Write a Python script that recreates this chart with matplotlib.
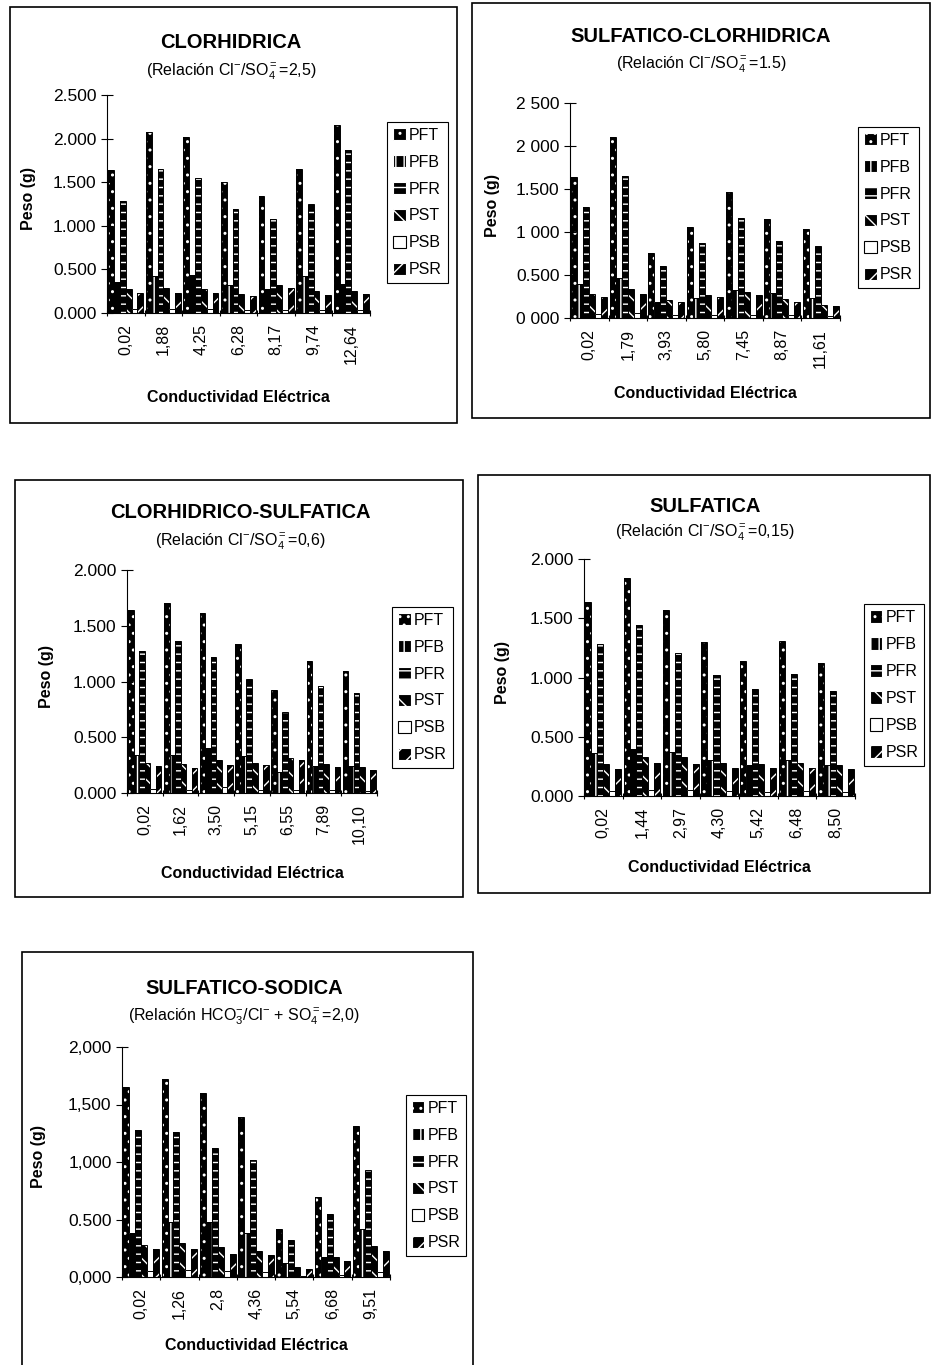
import matplotlib
matplotlib.use("Agg")
import matplotlib.pyplot as plt
import numpy as np
from matplotlib.patches import Patch, Rectangle

plt.rcParams["font.family"] = ["Liberation Sans", "DejaVu Sans"]
plt.rcParams["mathtext.fontset"] = "custom"
plt.rcParams["mathtext.rm"] = "Liberation Sans"
plt.rcParams["mathtext.it"] = "Liberation Sans:italic"
plt.rcParams["mathtext.bf"] = "Liberation Sans:bold"
plt.rcParams["hatch.linewidth"] = 1.0

W, H = 931, 1365
SERIES = ["PFT", "PFB", "PFR", "PST", "PSB", "PSR"]

# CLORHIDRICA
c1_cats = ["0,02", "1,88", "4,25", "6,28", "8,17", "9,74", "12,64"]
c1_pft = [1.64, 2.07, 2.02, 1.50, 1.34, 1.65, 2.16]
c1_pfb = [0.36, 0.42, 0.44, 0.32, 0.27, 0.42, 0.33]
c1_pfr = [1.28, 1.65, 1.55, 1.19, 1.08, 1.25, 1.87]
c1_pst = [0.27, 0.29, 0.27, 0.22, 0.32, 0.25, 0.25]
c1_psb = [0.05, 0.05, 0.05, 0.03, 0.04, 0.04, 0.03]
c1_psr = [0.23, 0.23, 0.23, 0.20, 0.29, 0.21, 0.22]
c1_yticks = ["0.000", "0.500", "1.000", "1.500", "2.000", "2.500"]

# SULFATICO-CLORHIDRICA
c2_cats = ["0,02", "1,79", "3,93", "5,80", "7,45", "8,87", "11,61"]
c2_pft = [1.64, 2.10, 0.76, 1.06, 1.46, 1.15, 1.04]
c2_pfb = [0.39, 0.46, 0.19, 0.23, 0.33, 0.29, 0.23]
c2_pfr = [1.29, 1.65, 0.60, 0.87, 1.16, 0.90, 0.84]
c2_pst = [0.28, 0.34, 0.21, 0.27, 0.30, 0.22, 0.15]
c2_psb = [0.05, 0.06, 0.03, 0.03, 0.04, 0.03, 0.02]
c2_psr = [0.24, 0.28, 0.19, 0.24, 0.27, 0.19, 0.14]
c2_yticks = ["0 000", "0.500", "1 000", "1.500", "2 000", "2 500"]

# CLORHIDRICO-SULFATICA
c3_cats = ["0,02", "1,62", "3,50", "5,15", "6,55", "7,89", "10,10"]
c3_pft = [1.64, 1.70, 1.61, 1.34, 0.92, 1.18, 1.09]
c3_pfb = [0.34, 0.34, 0.40, 0.33, 0.19, 0.24, 0.24]
c3_pfr = [1.27, 1.36, 1.22, 1.02, 0.73, 0.96, 0.90]
c3_pst = [0.27, 0.26, 0.30, 0.27, 0.31, 0.26, 0.23]
c3_psb = [0.04, 0.03, 0.05, 0.03, 0.03, 0.03, 0.02]
c3_psr = [0.24, 0.22, 0.25, 0.25, 0.30, 0.23, 0.21]
c3_yticks = ["0.000", "0.500", "1.000", "1.500", "2.000"]

# SULFATICA
c4_cats = ["0,02", "1,44", "2,97", "4,30", "5,42", "6,48", "8,50"]
c4_pft = [1.64, 1.84, 1.57, 1.30, 1.14, 1.31, 1.12]
c4_pfb = [0.36, 0.40, 0.37, 0.30, 0.26, 0.30, 0.26]
c4_pfr = [1.28, 1.44, 1.21, 1.02, 0.90, 1.03, 0.89]
c4_pst = [0.27, 0.33, 0.33, 0.28, 0.27, 0.28, 0.26]
c4_psb = [0.04, 0.05, 0.05, 0.04, 0.03, 0.04, 0.03]
c4_psr = [0.23, 0.28, 0.27, 0.24, 0.24, 0.24, 0.23]
c4_yticks = ["0.000", "0.500", "1.000", "1.500", "2.000"]

# SULFATICO-SODICA
c5_cats = ["0,02", "1,26", "2,8", "4,36", "5,54", "6,68", "9,51"]
c5_pft = [1.65, 1.72, 1.60, 1.39, 0.42, 0.70, 1.31]
c5_pfb = [0.38, 0.48, 0.48, 0.38, 0.12, 0.17, 0.42]
c5_pfr = [1.28, 1.26, 1.12, 1.02, 0.32, 0.55, 0.93]
c5_pst = [0.28, 0.30, 0.26, 0.23, 0.09, 0.17, 0.27]
c5_psb = [0.05, 0.06, 0.05, 0.04, 0.01, 0.02, 0.04]
c5_psr = [0.24, 0.24, 0.20, 0.19, 0.07, 0.14, 0.23]
c5_yticks = ["0,000", "0.500", "1,000", "1,500", "2,000"]

SUB = r"Cl$^{\mathrm{-}}$/SO$_{\mathrm{4}}^{\mathrm{=}}$"
panels = [
    dict(title="CLORHIDRICA", sub="(Relación " + SUB + "=2,5)",
         cats=c1_cats, vals=[c1_pft, c1_pfb, c1_pfr, c1_pst, c1_psb, c1_psr],
         yt=c1_yticks, ymax=2.5,
         box=(10, 7, 457, 423), ax=(107, 370, 95, 313), leg=(388, 447, 110, 295),
         tx=231, ty=43, sy=72, xly=397, yx=28),
    dict(title="SULFATICO-CLORHIDRICA", sub="(Relación " + SUB + "=1.5)",
         cats=c2_cats, vals=[c2_pft, c2_pfb, c2_pfr, c2_pst, c2_psb, c2_psr],
         yt=c2_yticks, ymax=2.5,
         box=(472, 3, 930, 418), ax=(570, 840, 103, 318), leg=(860, 917, 118, 297),
         tx=701, ty=37, sy=65, xly=393, yx=492),
    dict(title="CLORHIDRICO-SULFATICA", sub="(Relación " + SUB + "=0,6)",
         cats=c3_cats, vals=[c3_pft, c3_pfb, c3_pfr, c3_pst, c3_psb, c3_psr],
         yt=c3_yticks, ymax=2.0,
         box=(15, 480, 463, 897), ax=(127, 377, 570, 793), leg=(392, 453, 595, 780),
         tx=240, ty=512, sy=542, xly=873, yx=47),
    dict(title="SULFATICA", sub="(Relación " + SUB + "=0,15)",
         cats=c4_cats, vals=[c4_pft, c4_pfb, c4_pfr, c4_pst, c4_psb, c4_psr],
         yt=c4_yticks, ymax=2.0,
         box=(478, 475, 930, 893), ax=(584, 855, 559, 796), leg=(865, 923, 588, 782),
         tx=705, ty=507, sy=533, xly=868, yx=503),
    dict(title="SULFATICO-SODICA",
         sub=r"(Relación HCO$_{\mathrm{3}}^{\mathrm{-}}$/Cl$^{\mathrm{-}}$ + SO$_{\mathrm{4}}^{\mathrm{=}}$=2,0)",
         cats=c5_cats, vals=[c5_pft, c5_pfb, c5_pfr, c5_pst, c5_psb, c5_psr],
         yt=c5_yticks, ymax=2.0,
         box=(22, 952, 473, 1380), ax=(122, 390, 1047, 1277), leg=(407, 465, 1083, 1268),
         tx=244, ty=988, sy=1017, xly=1345, yx=38),
]

# face, hatch colour, hatch per series
styles = [
    ("black", "white", ".."),
    ("black", "white", "||"),
    ("black", "white", "--"),
    ("black", "white", "\\\\"),
    ("white", "black", None),
    ("black", "white", "//"),
]

fig = plt.figure(figsize=(W / 100, H / 100), dpi=100)


def fx(x):
    return x / W


def fy(y):
    return 1 - y / H


for p in panels:
    bx0, by0, bx1, by1 = p["box"]
    fig.patches.append(Rectangle((fx(bx0), fy(by1)), fx(bx1 - bx0), (by1 - by0) / H,
                                 transform=fig.transFigure, fill=False,
                                 edgecolor="black", linewidth=1.2))
    x0, x1, yt, yb = p["ax"]
    ax = fig.add_axes([fx(x0), fy(yb), fx(x1 - x0), (yb - yt) / H])
    n = len(p["cats"])
    x = np.arange(n)
    w = 0.155
    for i, (vals, (fc, hc, hatch)) in enumerate(zip(p["vals"], styles)):
        pos = x + (i - 2.5) * w
        ax.bar(pos, vals, w, color=fc, edgecolor=hc, hatch=hatch, linewidth=0)
        ax.bar(pos, vals, w, fill=False, edgecolor="black", linewidth=0.7)
    ax.set_xlim(-0.5, n - 0.5)
    ax.set_ylim(0, p["ymax"])
    ax.set_yticks(np.arange(0, p["ymax"] + 0.01, 0.5))
    ax.set_yticklabels(p["yt"], fontsize=12.5)
    ax.set_xticks(x)
    ax.set_xticklabels(p["cats"], rotation=90, fontsize=11.5)
    ax.set_xticks(np.arange(n + 1) - 0.5, minor=True)
    ax.tick_params(axis="x", which="major", length=0, pad=8)
    ax.tick_params(axis="x", which="minor", length=5, direction="inout", width=0.8)
    ax.tick_params(axis="y", length=9, direction="inout", width=0.8, pad=3)
    for s in ("top", "right"):
        ax.spines[s].set_visible(False)
    for s in ("left", "bottom"):
        ax.spines[s].set_linewidth(0.8)
    ax.set_facecolor("none")

    mid = (x0 + x1) / 2
    fig.text(fx(p["tx"]), fy(p["ty"]), p["title"], fontsize=14.5, fontweight="bold",
             ha="center", va="center")
    fig.text(fx(p["tx"]), fy(p["sy"]), p["sub"], fontsize=11.5, ha="center", va="center")
    fig.text(fx(mid), fy(p["xly"]), "Conductividad Eléctrica", fontsize=11.5,
             fontweight="bold", ha="center", va="center")
    fig.text(fx(p["yx"]), fy((yt + yb) / 2 - 5), "Peso (g)", fontsize=11.5,
             fontweight="bold", rotation=90, ha="center", va="center")

    lx0, lx1, ly0, ly1 = p["leg"]
    handles = [Patch(facecolor=fc, edgecolor=hc if fc == "black" else "black",
                     hatch=hatch, linewidth=0.8)
               for fc, hc, hatch in styles]
    leg = fig.legend(handles, SERIES, loc="center",
                     bbox_to_anchor=(fx((lx0 + lx1) / 2), fy((ly0 + ly1) / 2)),
                     bbox_transform=fig.transFigure, fontsize=11.5,
                     frameon=True, fancybox=False, framealpha=1, edgecolor="black",
                     handlelength=0.8, handleheight=0.8, handletextpad=0.2,
                     labelspacing=0.75, borderpad=0.35, borderaxespad=0)
    leg.get_frame().set_linewidth(0.8)

fig.savefig("out.png", dpi=100, facecolor="white")
